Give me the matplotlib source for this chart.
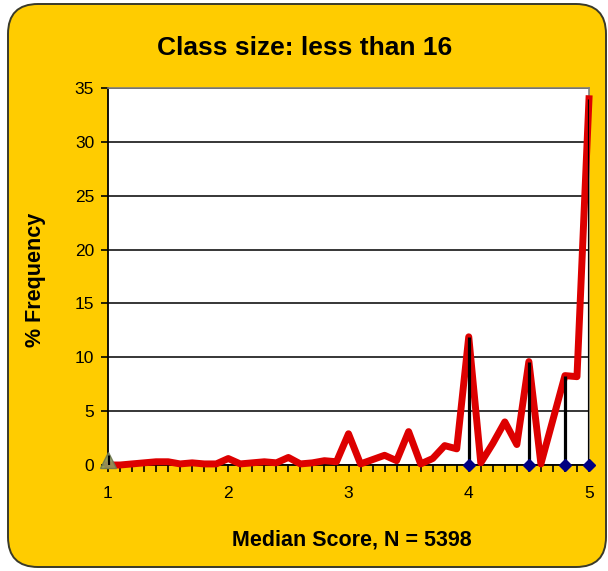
import matplotlib
matplotlib.use("Agg")
import matplotlib.pyplot as plt
from matplotlib.patches import FancyBboxPatch
from matplotlib.ticker import MultipleLocator

plt.rcParams['font.family'] = ['Liberation Sans', 'DejaVu Sans']

# ---- data ----
scores = [1.0, 1.1, 1.2, 1.3, 1.4, 1.5, 1.6, 1.7, 1.8, 1.9,
          2.0, 2.1, 2.2, 2.3, 2.4, 2.5, 2.6, 2.7, 2.8, 2.9,
          3.0, 3.1, 3.2, 3.3, 3.4, 3.5, 3.6, 3.7, 3.8, 3.9,
          4.0, 4.1, 4.2, 4.3, 4.4, 4.5, 4.6, 4.7, 4.8, 4.9, 5.0]
freq = [0.0, 0.0, 0.1, 0.2, 0.3, 0.3, 0.1, 0.2, 0.1, 0.1,
        0.6, 0.1, 0.2, 0.3, 0.2, 0.7, 0.1, 0.2, 0.4, 0.3,
        2.9, 0.1, 0.5, 0.9, 0.4, 3.1, 0.1, 0.6, 1.8, 1.5,
        11.9, 0.2, 2.0, 4.0, 1.9, 9.6, 0.1, 4.2, 8.3, 8.2, 34.0]
marked_x = [4.0, 4.5, 4.8, 5.0]
marked_y = [11.9, 9.6, 8.3, 34.0]
tri_x = [1.0]
tri_y = [0.5]
tri_line = [0.9]

title = "Class size: less than 16"
xlabel = "Median Score, N = 5398"
ylabel = "% Frequency"

W, H = 608, 571
fig = plt.figure(figsize=(W / 100, H / 100), dpi=100)
fig.patch.set_facecolor("white")

# rounded yellow background
box = FancyBboxPatch((8 / 100, 4 / 100), (606 - 8) / 100, (567 - 4) / 100,
                     boxstyle="round,pad=0,rounding_size=0.3",
                     transform=fig.dpi_scale_trans,
                     facecolor="#FFCC00", edgecolor="#3a3a2a", linewidth=1.4,
                     zorder=0)
fig.add_artist(box)

left, right, top, bottom = 108, 589, 88, 465
ax = fig.add_axes([left / W, 1 - bottom / H, (right - left) / W, (bottom - top) / H])
ax.set_zorder(2)
ax.set_facecolor("white")

ax.set_xlim(1, 5)
ax.set_ylim(0, 35)

ax.yaxis.set_major_locator(MultipleLocator(5))
ax.xaxis.set_major_locator(MultipleLocator(1))
ax.xaxis.set_minor_locator(MultipleLocator(0.1))
ax.grid(axis='y', color='black', linewidth=1.1, zorder=1)
ax.set_axisbelow(True)

ax.plot(scores, freq, color="#DD0000", linewidth=5.0, solid_joinstyle='round',
        zorder=3, clip_on=False)
ax.vlines(marked_x, 0, marked_y, color="black", linewidth=2.3, zorder=4)
ax.vlines(tri_x, 0, tri_line, color="black", linewidth=2.3, zorder=4)
ax.plot(marked_x, [0] * len(marked_x), linestyle='none', marker='D',
        markersize=6, color="#000080", zorder=5, clip_on=False)
ax.plot(tri_x, tri_y, linestyle='none', marker='^', markersize=11,
        color="#8f9a5f", markeredgecolor="#6f7a4f", zorder=3.5, clip_on=False, alpha=0.9)

for s in ['top', 'right']:
    ax.spines[s].set_color('#808080')
    ax.spines[s].set_linewidth(1.2)
for s in ['left', 'bottom']:
    ax.spines[s].set_color('black')
    ax.spines[s].set_linewidth(1.3)

ax.tick_params(axis='both', which='both', direction='out', color='black',
               width=1.2, labelsize=12.5, labelcolor='black')
ax.tick_params(axis='y', which='major', length=5, pad=5)
ax.tick_params(axis='x', which='major', length=5, pad=10)
ax.tick_params(axis='x', which='minor', length=5)

fig.text(305 / W, 1 - 48 / H, title, ha='center', va='center',
         fontsize=19, fontweight='bold')
fig.text(352 / W, 1 - 540 / H, xlabel, ha='center', va='center',
         fontsize=15.5, fontweight='bold')
fig.text(35 / W, 1 - 280 / H, ylabel, ha='center', va='center',
         rotation=90, fontsize=15.5, fontweight='bold')

fig.savefig("out.png", dpi=100, facecolor=fig.get_facecolor())
